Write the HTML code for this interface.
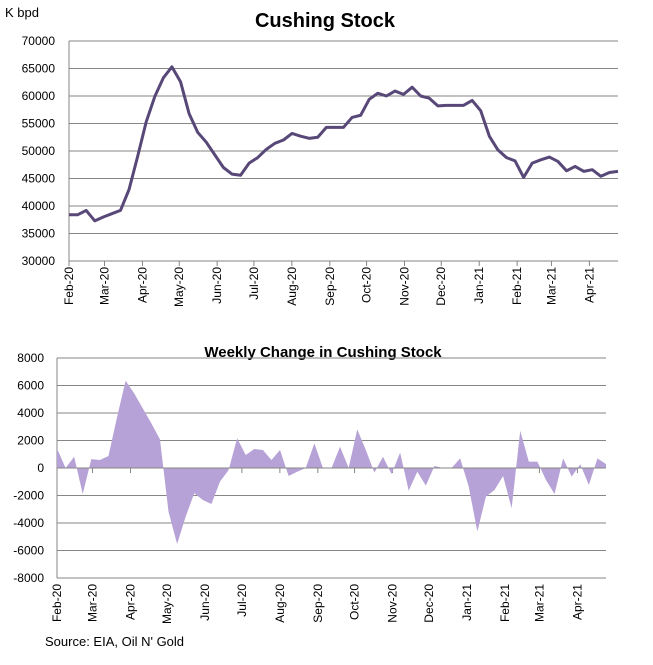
<!DOCTYPE html>
<html><head><meta charset="utf-8"><style>
body{margin:0;background:#fff;width:653px;height:660px;overflow:hidden;font-family:"Liberation Sans",Arial,sans-serif}
svg text{font-family:"Liberation Sans",Arial,sans-serif}
</style></head><body>
<svg id="c" width="653" height="660" xmlns="http://www.w3.org/2000/svg">
<text x="325" y="27" text-anchor="middle" font-size="20" font-weight="bold">Cushing Stock</text>
<text x="5" y="17" font-size="13">K bpd</text>
<text x="323" y="357" text-anchor="middle" font-size="15" font-weight="bold">Weekly Change in Cushing Stock</text>
<text x="45" y="646" font-size="13">Source: EIA, Oil N' Gold</text>
<g id="top"></g><g id="bot"></g>
</svg>
<script>
const months=["Feb-20","Mar-20","Apr-20","May-20","Jun-20","Jul-20","Aug-20","Sep-20","Oct-20","Nov-20","Dec-20","Jan-21","Feb-21","Mar-21","Apr-21"];
const stockTicks=[30000,35000,40000,45000,50000,55000,60000,65000,70000];
const changeTicks=[-8000,-6000,-4000,-2000,0,2000,4000,6000,8000];
const stock=[38400,38400,39200,37300,38000,38600,39200,43000,49000,55300,59900,63300,65300,62600,56800,53400,51600,49300,47000,45800,45600,47800,48800,50300,51400,52000,53200,52700,52300,52500,54300,54300,54300,
56100,56500,59400,60500,60000,60900,60300,61600,60000,59600,58200,58300,58300,58300,59200,57300,52700,50200,48800,48200,45200,47800,48400,48900,48100,46400,47200,46300,46600,45400,46100,46300];
const change=[1430,0,820,-1890,650,580,870,3700,6350,5430,4340,3250,2090,-3180,-5530,-3540,-1840,-2330,-2620,-990,-150,2160,950,1380,1310,580,1310,-580,-270,0,1790,0,0,1550,0,2810,1310,-340,820,-440,1120,-1650,-270,-1280,150,0,0,700,-1360,-4630,-2080,-1600,-580,-2930,2710,460,460,-870,-1890,700,-630,270,-1240,700,290];
const NS="http://www.w3.org/2000/svg";
function mk(p,t,a){const e=document.createElementNS(NS,t);for(const k in a)e.setAttribute(k,a[k]);p.appendChild(e);return e;}
const pxDay=1.2245;
function monthDay(i){const d=new Date(Date.UTC(2020,1+i,1));return (d-Date.UTC(2020,1,1))/864e5;}
function draw(g,cfg){
  const {x0,x1,y0,y1,ticks,vals,labelX,area}=cfg;
  const vmin=ticks[0],vmax=ticks[ticks.length-1];
  const Y=v=>y1-(v-vmin)/(vmax-vmin)*(y1-y0);
  const X=i=>x0+i*(x1-x0)/(vals.length-1);
  const XD=d=>x0+d*pxDay;
  ticks.forEach(t=>{
    const l=mk(g,'line',{x1:x0,x2:x1,y1:Y(t),y2:Y(t),stroke:'#868686','stroke-width':1});
    
    
    const tx=mk(g,'text',{x:labelX,y:Y(t)+4,'text-anchor':'end','font-size':12});
    tx.textContent=t;
    
    
  });
  const ax=mk(g,'line',{x1:x0,x2:x0,y1:y0,y2:y1,stroke:'#868686'});
  
  
  const base=area?Y(0):y1;
  months.forEach((m,i)=>{
    const x=XD(monthDay(i));
    const tk=mk(g,'line',{x1:x,x2:x,y1:base,y2:base+5,stroke:'#868686'});
    
    
    const t=mk(g,'text',{x:0,y:0,'text-anchor':'end','font-size':12,transform:`translate(${x+4},${y1+6}) rotate(-90)`});
    t.textContent=m;
    
    
  });
  if(area){
    let d=`M${X(0)},${Y(0)}`;vals.forEach((v,i)=>d+=` L${X(i)},${Y(v)}`);d+=` L${X(vals.length-1)},${Y(0)} Z`;
    const p=mk(g,'path',{d,fill:'#b6a2d6',stroke:'none'});
    
    
    const z=mk(g,'line',{x1:x0,x2:x1,y1:Y(0),y2:Y(0),stroke:'#868686'});
    
    
  }else{
    const p=mk(g,'polyline',{points:vals.map((v,i)=>X(i)+','+Y(v)).join(' '),fill:'none',stroke:'#584878','stroke-width':3,'stroke-linejoin':'round'});
    
    
  }
}
draw(document.getElementById('top'),{x0:69,x1:618,y0:41,y1:261,ticks:stockTicks,vals:stock,labelX:55,area:false});
draw(document.getElementById('bot'),{x0:57,x1:606,y0:358,y1:578,ticks:changeTicks,vals:change,labelX:44,area:true});
</script>
</body></html>
